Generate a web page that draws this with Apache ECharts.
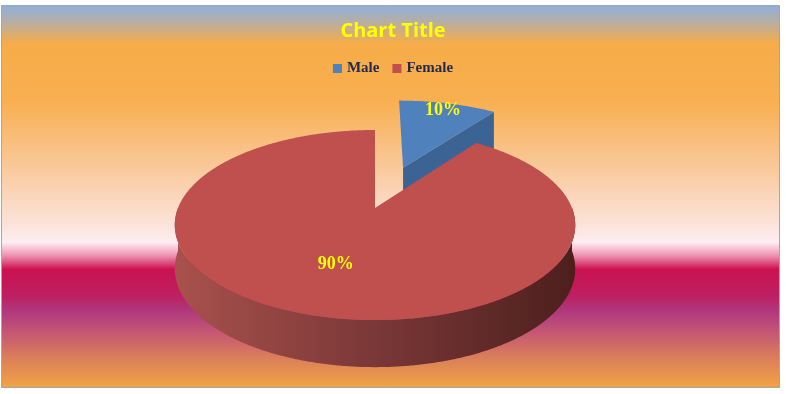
<!DOCTYPE html>
<html>
<head>
<meta charset="utf-8">
<script src="https://cdn.jsdelivr.net/npm/echarts@6/dist/echarts.min.js"></script>
<style>
html,body{margin:0;padding:0;background:#fff;}
#chart{width:786px;height:394px;}
</style>
</head>
<body>
<div id="chart"></div>
<script>
// ---- data ----
const categories = ['Male', 'Female'];
const values = [10, 90];
const titleText = 'Chart Title';

// ---- style ----
const sliceColors = ['#4F81BD', '#C0504D'];
const sideColors = ['#3B6495', null];
const geo = {
  cx: 375, cy: 208, rx: 197, ry: 92, persp: 0.179,
  depth: 43, depthPersp: 0.46,
  explode: [0.5, 0], labelR: [0.88, 0.58]
};

const total = values.reduce((a, b) => a + b, 0);
const startAngles = [];
(function () { let acc = 0; values.forEach(v => { startAngles.push(acc / total * Math.PI * 2); acc += v; }); })();

function proj(X, Z, bottom) {
  const w = 1 + geo.persp * Z;
  let x = geo.cx + geo.rx * X / w;
  let y = geo.cy - geo.ry * Z / w;
  if (bottom) y += geo.depth / Math.pow(w, geo.depthPersp);
  return [x, y];
}

function renderSlice(i, value) {
  const t0 = startAngles[i];
  const t1 = t0 + value / total * Math.PI * 2;
  const tm = (t0 + t1) / 2;
  const e = geo.explode[i];
  const ox = e * Math.sin(tm), oz = e * Math.cos(tm);
  const n = Math.max(4, Math.ceil((t1 - t0) / Math.PI * 360));
  const rimTop = [];
  for (let k = 0; k <= n; k++) {
    const t = t0 + (t1 - t0) * k / n;
    rimTop.push(proj(ox + Math.sin(t), oz + Math.cos(t), false));
  }
  const apexT = proj(ox, oz, false), apexB = proj(ox, oz, true);
  const children = [];
  // outer wall: only the front-facing part of the rim (90deg..270deg)
  const wa = Math.max(t0, Math.PI / 2), wb = Math.min(t1, Math.PI * 1.5);
  if (wb > wa) {
    const m = Math.ceil((wb - wa) / Math.PI * 360);
    const wt = [], wbt = [];
    for (let k = 0; k <= m; k++) {
      const t = wa + (wb - wa) * k / m;
      wt.push(proj(ox + Math.sin(t), oz + Math.cos(t), false));
      wbt.push(proj(ox + Math.sin(t), oz + Math.cos(t), true));
    }
    const wallFill = {
      type: 'linear', x: geo.cx - geo.rx * 1.02, y: 0, x2: geo.cx + geo.rx * 1.02, y2: 0, global: true,
      colorStops: [
        { offset: 0, color: '#A9514D' },
        { offset: 0.5, color: '#7A3837' },
        { offset: 1, color: '#4C1F1D' }
      ]
    };
    children.push({
      type: 'polygon', z2: 1,
      shape: { points: wt.concat(wbt.reverse()) },
      style: { fill: sideColors[i] || wallFill }
    });
  }
  // cut faces (only those facing the viewer)
  const sideFill = sideColors[i] || '#7A3837';
  const n0 = -Math.cos(t0 - Math.PI / 2);
  const n1 = -Math.cos(t1 + Math.PI / 2);
  if (n0 > 0.01) {
    const a = [ox + Math.sin(t0), oz + Math.cos(t0)];
    children.push({
      type: 'polygon', z2: 2,
      shape: { points: [apexT, rimTop[0], proj(a[0], a[1], true), apexB] },
      style: { fill: sideFill }
    });
  }
  if (n1 > 0.01) {
    const b = [ox + Math.sin(t1), oz + Math.cos(t1)];
    children.push({
      type: 'polygon', z2: 2,
      shape: { points: [apexT, rimTop[n], proj(b[0], b[1], true), apexB] },
      style: { fill: sideFill }
    });
  }
  // top face
  children.push({
    type: 'polygon', z2: 3,
    shape: { points: [apexT].concat(rimTop) },
    style: { fill: sliceColors[i] }
  });
  // label
  const r = geo.labelR[i];
  const lp = proj(ox + r * Math.sin(tm), oz + r * Math.cos(tm), false);
  children.push({
    type: 'text', z2: 10,
    x: lp[0], y: lp[1],
    style: {
      text: Math.round(value / total * 100) + '%',
      fill: '#FFFF00',
      font: 'bold 18px "Liberation Serif", "DejaVu Serif", serif',
      align: 'center', verticalAlign: 'middle'
    }
  });
  return { type: 'group', children: children };
}

const chart = echarts.init(document.getElementById('chart'), null, { renderer: 'canvas' });
chart.setOption({
  backgroundColor: '#ffffff',
  animation: false,
  color: sliceColors,
  graphic: [{
    type: 'rect', z: -10, silent: true,
    shape: { x: 1.5, y: 5.5, width: 778, height: 382 },
    style: {
      stroke: '#a6a6a6', lineWidth: 1,
      fill: {
        type: 'linear', x: 0, y: 0, x2: 0, y2: 1,
        colorStops: [
          { offset: 0.00, color: '#8DB0DC' },
          { offset: 0.05, color: '#BCAE9C' },
          { offset: 0.10, color: '#F6AC48' },
          { offset: 0.25, color: '#F8AF4F' },
          { offset: 0.40, color: '#F9C590' },
          { offset: 0.55, color: '#FBDFD0' },
          { offset: 0.62, color: '#FDEDF2' },
          { offset: 0.655, color: '#EE90B0' },
          { offset: 0.69, color: '#CC1150' },
          { offset: 0.76, color: '#BC2062' },
          { offset: 0.80, color: '#B0387E' },
          { offset: 0.86, color: '#C65A72' },
          { offset: 0.92, color: '#DA7E5A' },
          { offset: 1.00, color: '#F2A443' }
        ]
      }
    }
  }],
  title: {
    text: titleText, left: 'center', top: 16,
    textStyle: { color: '#FFFF00', fontSize: 20, fontWeight: 'bold', fontFamily: '"Open Sans", sans-serif' }
  },
  legend: {
    data: categories, top: 56, left: 'center',
    icon: 'rect', itemWidth: 9, itemHeight: 9, itemGap: 13,
    textStyle: { color: '#1E2A50', fontSize: 15, fontWeight: 'bold', fontFamily: '"Liberation Serif", serif' }
  },
  series: categories.map((name, i) => ({
    type: 'custom', name: name, coordinateSystem: 'none',
    z: i + 2,
    itemStyle: { color: sliceColors[i] },
    data: [values[i]],
    renderItem: (params, api) => renderSlice(i, api.value(0))
  }))
});
</script>
</body>
</html>
